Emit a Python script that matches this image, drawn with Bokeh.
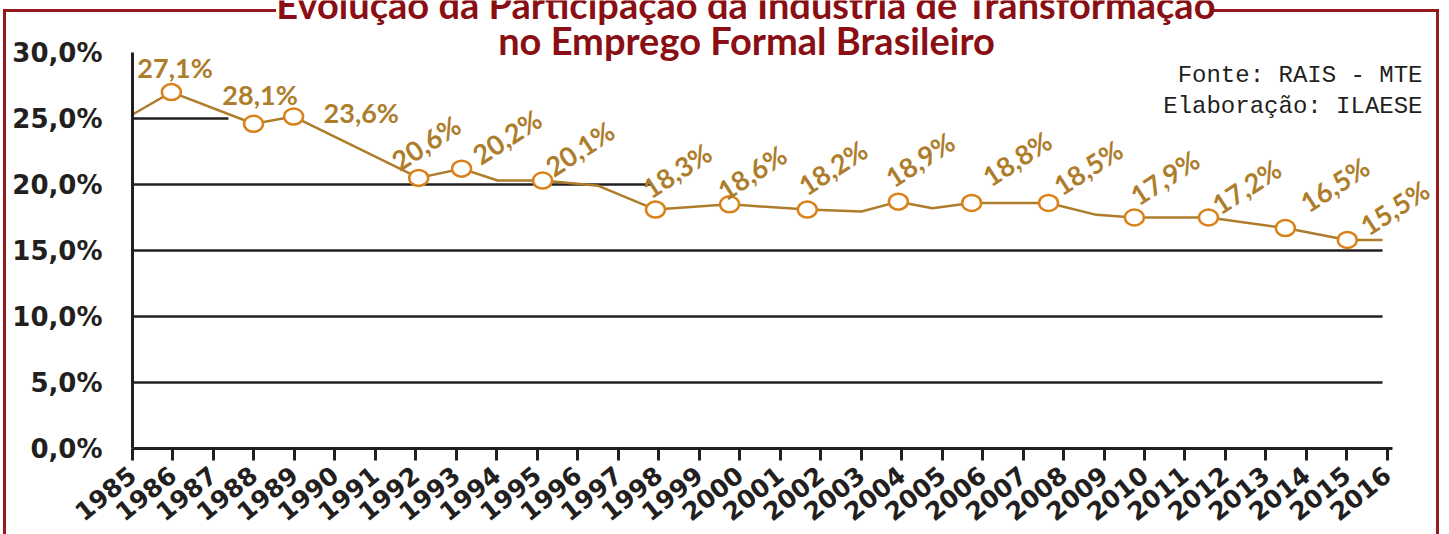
from bokeh.plotting import figure
from bokeh.models import FixedTicker, Range1d
from bokeh.core.properties import value
from bokeh.embed import file_html
from bokeh.resources import INLINE
import math

# ---------------- data ----------------
years = list(range(1985, 2017))
year_labels = [str(y) for y in years]
y_ticks = [0, 5, 10, 15, 20, 25, 30]
y_tick_labels = ["0,0%", "5,0%", "10,0%", "15,0%", "20,0%", "25,0%", "30,0%"]

# line vertices (position in years, share of employment in %)
line_year = [1985.0, 1985.96, 1987.99, 1988.98, 1992.07, 1993.13, 1994.02, 1995.13,
             1996.51, 1997.92, 1999.75, 2001.67, 2003.01, 2003.92, 2004.76, 2005.73,
             2007.63, 2008.81, 2009.75, 2011.58, 2013.48, 2015.01, 2015.88]
line_value = [25.3, 27.0, 24.6, 25.15, 20.5, 21.2, 20.3, 20.3,
              19.9, 18.1, 18.5, 18.1, 17.95, 18.7, 18.2, 18.6,
              18.6, 17.7, 17.5, 17.5, 16.7, 15.8, 15.8]

marker_year = [1985.96, 1987.99, 1988.98, 1992.07, 1993.13, 1995.13, 1997.92, 1999.75,
               2001.67, 2003.92, 2005.73, 2007.63, 2009.75, 2011.58, 2013.48, 2015.01]
marker_value = [27.0, 24.6, 25.15, 20.5, 21.2, 20.3, 18.1, 18.5,
                18.1, 18.7, 18.6, 18.6, 17.5, 17.5, 16.7, 15.8]

flat_labels = ["27,1%", "28,1%", "23,6%"]
flat_year = [1985.12, 1987.22, 1989.72]
flat_value = [28.1, 26.06, 24.7]

tilted_labels = ["20,6%", "20,2%", "20,1%", "18,3%", "18,6%", "18,2%", "18,9%",
                 "18,8%", "18,5%", "17,9%", "17,2%", "16,5%", "15,5%"]
tilted_year = [1991.6, 1993.6, 1995.4, 1997.8, 1999.65, 2001.65, 2003.8,
               2006.2, 2007.95, 2009.85, 2011.87, 2014.05, 2015.53]
tilted_value = [21.0, 21.45, 20.55, 18.9, 18.75, 19.12, 19.72,
                19.8, 19.12, 18.36, 17.68, 17.83, 16.09]

grid_levels = [5, 10, 15, 20, 25]
grid_end = [2015.88, 2015.88, 2015.88, 1997.85, 1987.37]

title_1 = "Evolução da Participação da Indústria de Transformação"
title_2 = "no Emprego Formal Brasileiro"
source_1 = "Fonte: RAIS - MTE"
source_2 = "Elaboração: ILAESE"

# ---------------- layout helpers ----------------
W, H = 1449, 534
LEFT, BOTTOM_PX = 132, 448
PPX = 40.48      # pixels per year
PPY = 13.2       # pixels per percentage point
X0 = 1985.0
BASE_FIX = 0.36  # baseline correction (fraction of font size)


def dx(px):
    return X0 + (px - LEFT) / PPX


def dy(py):
    return (BOTTOM_PX - py) / PPY


RED = "#951a1e"
TITLE_RED = "#8a0f14"
GOLD = "#ad7d2c"
ORANGE = "#d9821a"
DARK = "#231f20"

p = figure(width=W, height=H, output_backend="svg", toolbar_location=None,
           x_range=Range1d(X0, dx(W)), y_range=Range1d(0, dy(0)),
           min_border_left=LEFT, min_border_right=0, min_border_top=0,
           min_border_bottom=H - BOTTOM_PX)
p.outline_line_color = None
p.xgrid.visible = False
p.ygrid.visible = False
p.background_fill_color = None
p.border_fill_color = None

# decorative dark-red frame around the chart (page background)
grad = "linear-gradient(%s,%s)" % (RED, RED)
p.styles = {
    "background-color": "white",
    "background-image": ", ".join([grad] * 4),
    "background-size": "3px 540px, 273px 3px, 226px 3px, 3px 540px",
    "background-position": "3px 9px, 3px 9px, 1213px 9px, 1436px 9px",
    "background-repeat": "no-repeat",
}

# axes
xa = p.xaxis[0]
xa.ticker = FixedTicker(ticks=years)
xa.major_label_overrides = {y: s for y, s in zip(years, year_labels)}
xa.bounds = (dx(123), dx(1392))
xa.axis_line_color = DARK
xa.axis_line_width = 3
xa.major_tick_line_color = DARK
xa.major_tick_line_width = 3
xa.major_tick_out = 12
xa.major_tick_in = 0
xa.minor_tick_line_color = None
xa.major_label_orientation = math.radians(39)
xa.major_label_text_font = "DejaVu Sans"
xa.major_label_text_font_style = "bold"
xa.major_label_text_font_size = "25px"
xa.major_label_text_color = DARK
xa.major_label_standoff = 11

ya = p.yaxis[0]
ya.ticker = FixedTicker(ticks=y_ticks)
ya.major_label_overrides = {t: s for t, s in zip(y_ticks, y_tick_labels)}
ya.bounds = (0, 30)
ya.axis_line_color = DARK
ya.axis_line_width = 3
ya.major_tick_line_color = None
ya.major_tick_out = 0
ya.major_tick_in = 0
ya.minor_tick_line_color = None
ya.major_label_text_font = "DejaVu Sans"
ya.major_label_text_font_style = "bold"
ya.major_label_text_font_size = "26px"
ya.major_label_text_color = DARK
ya.major_label_standoff = 30

# gridlines (partially hidden in the original artwork)
p.segment(x0=[X0] * len(grid_levels), y0=grid_levels, x1=grid_end, y1=grid_levels,
          line_color=DARK, line_width=2.5)

# series
p.line(line_year, line_value, line_color=GOLD, line_width=2.5)
p.ellipse(marker_year, marker_value, width=19, height=16,
          width_units="screen", height_units="screen",
          fill_color="white", line_color=ORANGE, line_width=2.5)

FS_FLAT = 27
p.text(flat_year, flat_value, text=flat_labels, text_color=GOLD,
       y_offset=-BASE_FIX * FS_FLAT,
       text_font=value("Lato"), text_font_style="bold", text_font_size="%dpx" % FS_FLAT,
       text_align="left", text_baseline="alphabetic")

FS_TILT = 27
TILT = math.radians(33)
p.text(tilted_year, tilted_value, text=tilted_labels, text_color=GOLD,
       angle=TILT,
       x_offset=-BASE_FIX * FS_TILT * math.sin(TILT),
       y_offset=-BASE_FIX * FS_TILT * math.cos(TILT),
       text_font=value("Lato"), text_font_style="bold", text_font_size="%dpx" % FS_TILT,
       text_align="left", text_baseline="alphabetic")

# title and source
FS_TITLE = 38
p.text([dx(746), dx(746)], [dy(17), dy(53)], text=[title_1, title_2],
       text_color=TITLE_RED, y_offset=-BASE_FIX * FS_TITLE,
       text_font=value("Lato"), text_font_style="bold", text_font_size="%dpx" % FS_TITLE,
       text_align="center", text_baseline="alphabetic")
FS_SRC = 24
p.text([dx(1422), dx(1422)], [dy(84), dy(115)], text=[source_1, source_2],
       text_color=DARK, y_offset=-BASE_FIX * FS_SRC,
       text_font=value("Liberation Mono"), text_font_size="%dpx" % FS_SRC,
       text_align="right", text_baseline="alphabetic")

open("out.html", "w").write(file_html(p, INLINE))
